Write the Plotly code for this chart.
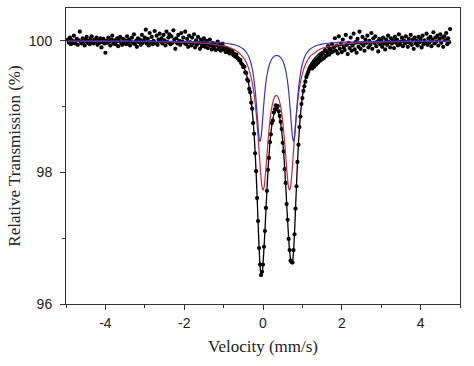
import numpy as np
import plotly.graph_objects as go

# ---------------- data ----------------
# measured relative transmission (%), one value per velocity channel,
# channels evenly spaced from -4.95 to 4.75 mm/s
trans = [
    # -4.95 .. -1.30
    100.02, 99.97, 100.05, 99.95, 100.01, 99.98, 100.08, 99.96, 100.00, 100.03,
    99.94, 100.01, 100.14, 99.99, 99.96, 100.04, 99.98, 99.93, 100.02, 100.06,
    99.97, 100.00, 99.95, 100.03, 100.07, 99.98, 99.96, 100.02, 99.99, 100.05,
    99.94, 100.01, 99.97, 100.04, 99.90, 99.98, 100.03, 99.96, 99.82, 100.00,
    99.97, 100.05, 99.99, 99.93, 100.02, 100.08, 99.96, 100.01, 99.95, 99.99,
    100.04, 99.92, 100.00, 100.06, 99.97, 99.94, 100.03, 99.98, 100.01, 99.95,
    100.07, 99.96, 100.02, 99.93, 99.99, 100.05, 99.97, 100.10, 99.95, 100.00,
    99.91, 100.04, 99.98, 100.02, 99.94, 100.09, 99.97, 100.01, 100.05, 100.17,
    99.96, 100.03, 99.93, 100.12, 99.98, 100.06, 99.95, 100.00, 100.15, 99.97,
    100.08, 99.94, 100.02, 100.11, 99.99, 100.04, 99.96, 100.09, 100.01, 99.93,
    100.14, 99.98, 100.05, 100.10, 99.95, 100.07, 99.97, 100.16, 100.02, 99.88,
    100.04, 99.96, 100.09, 100.00, 99.94, 100.12, 99.99, 100.05, 99.97, 100.14,
    99.95, 100.03, 99.91, 100.08, 99.98, 99.93, 100.05, 99.96, 100.10, 99.90,
    100.01, 99.94, 100.06, 99.97, 99.88, 100.02, 99.92, 99.99, 100.04, 99.91,
    99.96, 100.00, 99.89, 99.95, 100.02, 99.93, 99.87,
    # -1.275 .. -0.525
    99.97, 99.90, 99.95, 99.86, 99.93, 99.99, 99.88, 99.94, 99.85, 99.91,
    99.96, 99.87, 99.90, 99.83, 99.89, 99.84, 99.88, 99.81, 99.86, 99.82,
    99.85, 99.78, 99.80, 99.76, 99.79, 99.74, 99.73, 99.70, 99.71, 99.66,
    99.64,
    # -0.50 .. 1.20 (absorption lines)
    99.60, 99.61, 99.52, 99.51, 99.41, 99.39, 99.27, 99.22, 99.06, 98.97,
    98.75, 98.59, 98.29, 98.02, 97.61, 97.26, 96.85, 96.60, 96.44, 96.49,
    96.60, 96.87, 97.11, 97.46, 97.72, 98.04, 98.22, 98.46, 98.58, 98.75,
    98.79, 98.91, 98.96, 99.02, 98.98, 99.01, 98.93, 98.86, 98.77, 98.66,
    98.45, 98.32, 98.05, 97.84, 97.52, 97.28, 96.99, 96.82, 96.66, 96.64,
    96.63, 96.82, 97.06, 97.45, 97.79, 98.16, 98.42, 98.69, 98.85, 99.04,
    99.13, 99.24, 99.31, 99.38, 99.45, 99.49, 99.53, 99.57, 99.60,
    # 1.225 .. 4.75
    99.62, 99.58, 99.66, 99.61, 99.69, 99.64, 99.72, 99.67, 99.75, 99.70,
    99.78, 99.72, 99.81, 99.74, 99.86, 99.77, 99.83, 99.92, 99.79, 99.87,
    99.82, 99.95, 99.84, 99.90, 100.04, 99.85, 99.93, 99.81, 100.07, 99.88,
    99.96, 99.83, 100.02, 99.90, 99.86, 100.09, 99.94, 99.80, 99.97, 99.89,
    100.05, 99.85, 99.93, 100.11, 99.87, 99.98, 99.82, 100.03, 99.91, 100.14,
    99.88, 99.96, 100.06, 99.93, 99.85, 100.02, 99.97, 100.08, 99.90, 100.00,
    99.94, 100.12, 99.88, 100.04, 99.97, 100.07, 99.92, 99.99, 99.84, 100.03,
    99.95, 100.01, 99.91, 100.05, 99.96, 99.87, 100.02, 99.94, 100.08, 99.98,
    99.90, 100.04, 99.96, 100.01, 99.89, 100.06, 99.97, 100.02, 99.93, 100.10,
    99.95, 99.99, 100.05, 99.92, 100.01, 99.96, 100.07, 99.98, 99.91, 100.03,
    99.97, 100.09, 99.94, 100.02, 99.88, 100.05, 99.96, 100.00, 99.93, 100.06,
    99.98, 100.03, 99.90, 100.08, 99.95, 100.01, 99.97, 100.11, 99.94, 100.04,
    99.98, 100.06, 99.92, 100.02, 100.13, 99.96, 100.05, 99.99, 100.08, 99.93,
    100.03, 100.10, 99.97, 100.05, 99.91, 100.07, 100.01, 100.12, 99.95, 100.04,
    99.98, 100.18,
]
velocity = np.linspace(-4.95, 4.75, len(trans))  # channel velocities (mm/s)

# fitted curves, sampled along velocity
fit_v = [
    -4.95, -3.5, -2.5, -1.8, -1.3, -1.0, -0.8, -0.7, -0.6,
    -0.5, -0.475, -0.45, -0.425, -0.4, -0.375, -0.35, -0.325, -0.3, -0.275,
    -0.25, -0.225, -0.2, -0.175, -0.15, -0.125, -0.1, -0.075, -0.05, -0.025,
    0.0, 0.025, 0.05, 0.075, 0.1, 0.125, 0.15, 0.175, 0.2, 0.225,
    0.25, 0.275, 0.3, 0.325, 0.35, 0.375, 0.4, 0.425, 0.45, 0.475,
    0.5, 0.525, 0.55, 0.575, 0.6, 0.625, 0.65, 0.675, 0.7, 0.725,
    0.75, 0.775, 0.8, 0.825, 0.85, 0.875, 0.9, 0.925, 0.95, 0.975,
    1.0, 1.025, 1.05, 1.075, 1.1, 1.125, 1.15, 1.175, 1.2,
    1.3, 1.4, 1.5, 1.7, 2.0, 2.5, 3.2, 4.2, 4.75,
]
fit_total = [
    99.994, 99.989, 99.979, 99.962, 99.932, 99.891, 99.837, 99.793, 99.728,
    99.623, 99.588, 99.546, 99.498, 99.442, 99.376, 99.298, 99.204, 99.090, 98.952,
    98.781, 98.572, 98.314, 98.001, 97.637, 97.242, 96.869, 96.590, 96.456, 96.474,
    96.615, 96.845, 97.131, 97.439, 97.738, 98.010, 98.244, 98.438, 98.595, 98.718,
    98.812, 98.879, 98.923, 98.945, 98.947, 98.929, 98.889, 98.827, 98.739, 98.623,
    98.474, 98.291, 98.071, 97.818, 97.541, 97.263, 97.009, 96.806, 96.671, 96.614,
    96.650, 96.805, 97.081, 97.436, 97.807, 98.147, 98.436, 98.675, 98.868, 99.025,
    99.152, 99.256, 99.343, 99.415, 99.476, 99.527, 99.571, 99.610, 99.643,
    99.728, 99.793, 99.837, 99.891, 99.932, 99.962, 99.979, 99.989, 99.992,
]
fit_red = [
    99.996, 99.992, 99.985, 99.973, 99.951, 99.922, 99.886, 99.856, 99.813,
    99.747, 99.725, 99.700, 99.671, 99.638, 99.600, 99.555, 99.502, 99.441, 99.368,
    99.281, 99.178, 99.055, 98.910, 98.740, 98.546, 98.334, 98.119, 97.925, 97.785,
    97.729, 97.768, 97.891, 98.067, 98.264, 98.456, 98.630, 98.777, 98.898, 98.993,
    99.066, 99.118, 99.152, 99.168, 99.168, 99.152, 99.118, 99.066, 98.993, 98.898,
    98.777, 98.630, 98.456, 98.264, 98.067, 97.891, 97.768, 97.729, 97.785, 97.925,
    98.119, 98.334, 98.546, 98.740, 98.910, 99.055, 99.178, 99.281, 99.368, 99.441,
    99.502, 99.555, 99.600, 99.638, 99.671, 99.700, 99.725, 99.747, 99.767,
    99.813, 99.856, 99.886, 99.922, 99.951, 99.973, 99.985, 99.992, 99.994,
]
fit_blue = [
    99.998, 99.997, 99.994, 99.990, 99.981, 99.968, 99.951, 99.937, 99.914,
    99.876, 99.862, 99.846, 99.827, 99.805, 99.777, 99.743, 99.701, 99.649, 99.584,
    99.500, 99.393, 99.258, 99.091, 98.897, 98.696, 98.535, 98.471, 98.531, 98.689,
    98.886, 99.077, 99.241, 99.372, 99.474, 99.553, 99.614, 99.661, 99.697, 99.725,
    99.746, 99.761, 99.771, 99.777, 99.778, 99.777, 99.771, 99.761, 99.746, 99.725,
    99.697, 99.661, 99.614, 99.553, 99.474, 99.372, 99.241, 99.077, 98.886, 98.689,
    98.531, 98.471, 98.535, 98.696, 98.897, 99.091, 99.258, 99.393, 99.500, 99.584,
    99.649, 99.701, 99.743, 99.777, 99.805, 99.827, 99.846, 99.862, 99.876,
    99.914, 99.937, 99.951, 99.968, 99.981, 99.990, 99.994, 99.997, 99.998,
]

x_ticks = [-4, -2, 0, 2, 4]
x_tick_text = ["-4", "-2", "0", "2", "4"]
y_ticks = [96, 98, 100]
y_tick_text = ["96", "98", "100"]

# ---------------- figure ----------------
fig = go.Figure()
fig.add_trace(go.Scatter(
    x=velocity, y=trans, mode="markers",
    marker=dict(color="black", size=4.2, line=dict(width=0)),
    name="data", showlegend=False))
fig.add_trace(go.Scatter(
    x=fit_v, y=fit_total, mode="lines", line=dict(color="black", width=1.3, shape="spline"),
    name="fit", showlegend=False))
fig.add_trace(go.Scatter(
    x=fit_v, y=fit_red, mode="lines", line=dict(color="#c02a3c", width=1.2, shape="spline"),
    name="doublet 1", showlegend=False))
fig.add_trace(go.Scatter(
    x=fit_v, y=fit_blue, mode="lines", line=dict(color="#3535c8", width=1.2, shape="spline"),
    name="doublet 2", showlegend=False))

axis_common = dict(
    showgrid=False, zeroline=False, showline=True, linecolor="#333333", linewidth=1,
    mirror=True, ticks="outside", ticklen=5, tickwidth=1, tickcolor="#333333",
    tickfont=dict(family="Liberation Sans, Arial, sans-serif", size=14, color="#222222"),
)
fig.update_xaxes(
    range=[-5, 5], tickvals=x_ticks, ticktext=x_tick_text, ticklabelstandoff=1,
    minor=dict(dtick=1, tick0=-5, ticks="outside", ticklen=3, tickcolor="#333333"),
    title=dict(text="Velocity (mm/s)", standoff=10,
               font=dict(family="Liberation Serif, Times New Roman, serif", size=17, color="#222222")),
    **axis_common)
fig.update_yaxes(
    range=[96, 100.5], tickvals=y_ticks, ticktext=y_tick_text, ticklabelstandoff=5,
    minor=dict(dtick=1, tick0=96, ticks="outside", ticklen=3, tickcolor="#333333"),
    title=dict(text="Relative Transmission (%)", standoff=3,
               font=dict(family="Liberation Serif, Times New Roman, serif", size=17, color="#222222")),
    **axis_common)
fig.update_layout(
    width=474, height=366,
    margin=dict(l=66, r=14, t=8, b=62),
    paper_bgcolor="white", plot_bgcolor="white",
    showlegend=False,
)
# remove the browser's default page margin so the figure sits at the window origin
fig.write_html("out.html", config={"displayModeBar": False},
               post_script="document.body.style.margin='0';")
